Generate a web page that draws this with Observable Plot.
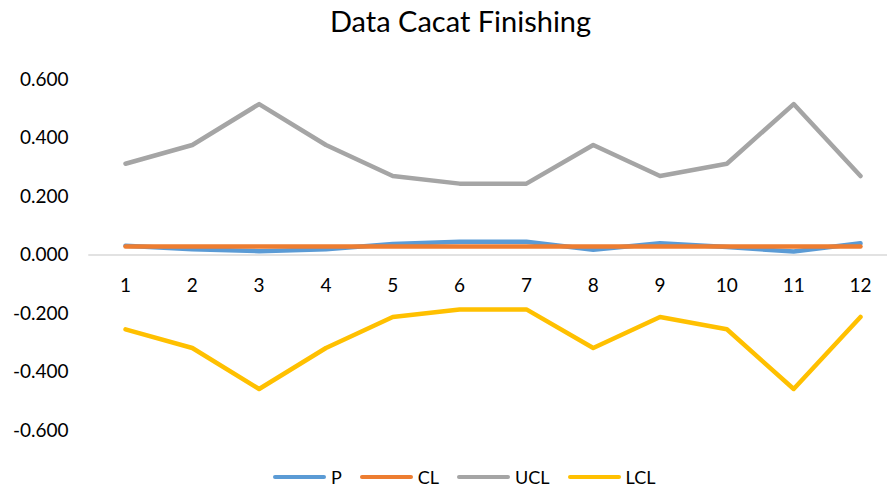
<!DOCTYPE html>
<html>
<head>
<meta charset="utf-8">
<script src="https://cdn.jsdelivr.net/npm/d3@7"></script>
<script src="https://cdn.jsdelivr.net/npm/@observablehq/plot@0.6"></script>
<style>
  html, body { margin: 0; padding: 0; background: #fff; }
  body { width: 887px; height: 489px; position: relative; overflow: hidden; font-family: Lato, "Open Sans", sans-serif; color: #000; }
  #title { position: absolute; top: 4px; left: 460.5px; transform: translateX(-50%); font-size: 29px; white-space: nowrap; line-height: 1.2; }
  #chart { position: absolute; top: 58px; left: 0; }
  #legend { position: absolute; top: 458px; left: 273px; height: 38px; display: flex; align-items: center; font-size: 18px; white-space: nowrap; }
  .item { display: flex; align-items: center; margin-right: 18px; }
  .sw { width: 53px; height: 4.5px; border-radius: 3px; margin-right: 5px; }
</style>
</head>
<body>
<div id="title">Data Cacat Finishing</div>
<div id="chart"></div>
<div id="legend"></div>
<script>
const samples = [1, 2, 3, 4, 5, 6, 7, 8, 9, 10, 11, 12];
const P   = [0.032, 0.020, 0.013, 0.020, 0.038, 0.045, 0.045, 0.018, 0.040, 0.027, 0.012, 0.040];
const CL  = [0.029, 0.029, 0.029, 0.029, 0.029, 0.029, 0.029, 0.029, 0.029, 0.029, 0.029, 0.029];
const UCL = [0.312, 0.376, 0.516, 0.376, 0.270, 0.244, 0.244, 0.376, 0.270, 0.312, 0.516, 0.270];
const LCL = [-0.254, -0.318, -0.458, -0.318, -0.212, -0.186, -0.186, -0.318, -0.212, -0.254, -0.458, -0.212];
const yTicks = [-0.6, -0.4, -0.2, 0, 0.2, 0.4, 0.6];
const seriesNames = ["P", "CL", "UCL", "LCL"];
const seriesColors = ["#5B9BD5", "#ED7D31", "#A5A5A5", "#FFC000"];
const seriesValues = [P, CL, UCL, LCL];

const rows = seriesNames.flatMap((name, i) =>
  samples.map((s, j) => ({series: name, sample: s, value: seriesValues[i][j]})));

const chart = Plot.plot({
  width: 887,
  height: 400,
  marginLeft: 80,
  marginRight: 0,
  marginTop: 21,
  marginBottom: 28,
  style: {fontFamily: "Lato, 'Open Sans', sans-serif", fontSize: "19px", color: "#000", background: "#fff"},
  x: {domain: [1, 12], range: [125, 860], axis: null},
  y: {domain: [-0.6, 0.6], range: [372, 21], label: null},
  color: {domain: seriesNames, range: seriesColors},
  marks: [
    Plot.axisY({ticks: yTicks, tickFormat: d => d.toFixed(3), tickSize: 0, tickPadding: 12, fontSize: 19, fill: "#000", label: null}),
    Plot.ruleY([0], {x1: 0.45, x2: 13, stroke: "#D9D9D9", strokeWidth: 1.5}),
    Plot.text(samples, {x: d => d, y: 0, text: d => String(d), dy: 31, fontSize: 19, fill: "#000"}),
    ...seriesNames.map((name, i) =>
      Plot.line(rows.filter(r => r.series === name), {
        x: "sample", y: "value", stroke: seriesColors[i], strokeWidth: 4.5,
        strokeLinecap: "round", strokeLinejoin: "round"
      }))
  ]
});
document.getElementById("chart").appendChild(chart);

const legend = document.getElementById("legend");
seriesNames.forEach((name, i) => {
  const item = document.createElement("div");
  item.className = "item";
  const sw = document.createElement("span");
  sw.className = "sw";
  sw.style.background = seriesColors[i];
  const label = document.createElement("span");
  label.textContent = name;
  item.appendChild(sw);
  item.appendChild(label);
  legend.appendChild(item);
});
</script>
</body>
</html>
